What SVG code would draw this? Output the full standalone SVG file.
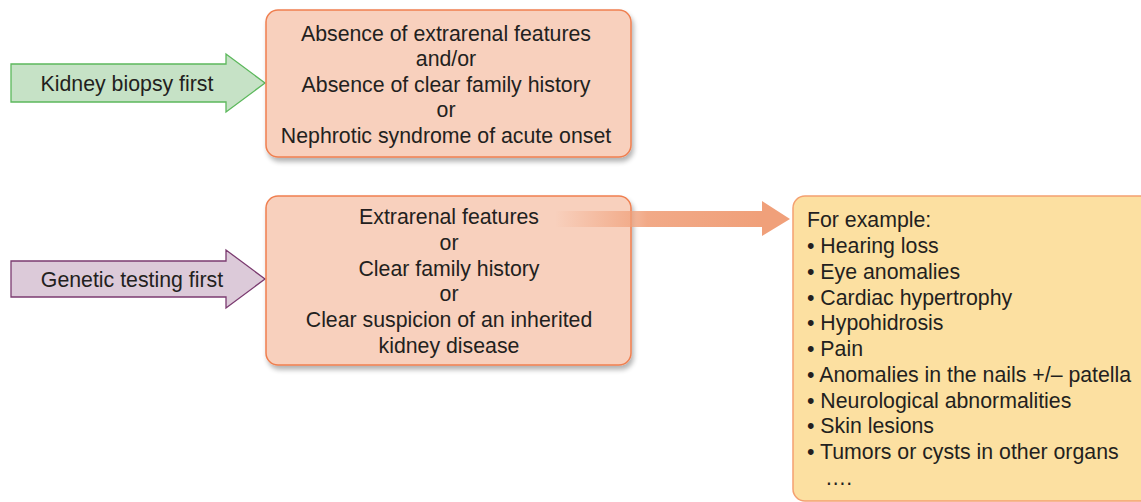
<svg xmlns="http://www.w3.org/2000/svg" width="1141" height="502" viewBox="0 0 1141 502">
<style>
text{font-family:"Liberation Sans",Arial,sans-serif;font-size:21.3px;fill:#231f20}
.c{text-anchor:middle}
.box{fill:#f8d0bd;stroke:#ef7f50;stroke-width:1.5}
</style>
<defs>
<linearGradient id="g" x1="555" y1="0" x2="760" y2="0" gradientUnits="userSpaceOnUse">
<stop offset="0" stop-color="#f0a07a" stop-opacity="0"/>
<stop offset="0.45" stop-color="#f0a07a" stop-opacity="0.9"/>
<stop offset="1" stop-color="#f0a07a"/>
</linearGradient>
<filter id="sh" x="-5%" y="-5%" width="115%" height="120%">
<feGaussianBlur in="SourceAlpha" stdDeviation="2.5"/>
<feOffset dx="2" dy="4"/>
<feComponentTransfer><feFuncA type="linear" slope="0.3"/></feComponentTransfer>
<feMerge><feMergeNode/><feMergeNode in="SourceGraphic"/></feMerge>
</filter>
</defs>
<g id="kidney-biopsy">
<polygon points="11,64 226,64 226,54 265,83 226,112 226,102 11,102" fill="#c6e2c6" stroke="#5cb85c" stroke-width="1.3"/>
<text class="c" x="127" y="91">Kidney biopsy first</text>
</g>
<g id="genetic-testing">
<polygon points="11,261 226,261 226,250 265,279 226,308 226,297 11,297" fill="#dccad9" stroke="#7b3b70" stroke-width="1.3"/>
<text class="c" x="132" y="287">Genetic testing first</text>
</g>
<g id="box-absence">
<rect class="box" x="266" y="10" width="365" height="147" rx="12" filter="url(#sh)"/>
<text class="c" x="446" y="41">Absence of extrarenal features</text>
<text class="c" x="446" y="66">and/or</text>
<text class="c" x="446" y="92">Absence of clear family history</text>
<text class="c" x="446" y="117">or</text>
<text class="c" x="446" y="143">Nephrotic syndrome of acute onset</text>
</g>
<g id="box-features">
<rect class="box" x="266" y="196" width="365" height="169" rx="12" filter="url(#sh)"/>
<text class="c" x="449" y="224">Extrarenal features</text>
<text class="c" x="449" y="250">or</text>
<text class="c" x="449" y="276">Clear family history</text>
<text class="c" x="449" y="301">or</text>
<text class="c" x="449" y="327">Clear suspicion of an inherited</text>
<text class="c" x="449" y="353">kidney disease</text>
</g>
<g id="connectors">
<polygon points="555,211 762,211 762,201 790,219 762,236 762,227 555,227" fill="url(#g)"/>
</g>
<g id="box-examples">
<rect x="793" y="196" width="370" height="305" rx="12" fill="#fce0a1" stroke="#f4a070" stroke-width="1.5"/>
<text x="807" y="227">For example:</text>
<text x="807" y="253">• Hearing loss</text>
<text x="807" y="279">• Eye anomalies</text>
<text x="807" y="305">• Cardiac hypertrophy</text>
<text x="807" y="330">• Hypohidrosis</text>
<text x="807" y="356">• Pain</text>
<text x="807" y="382">• Anomalies in the nails +/– patella</text>
<text x="807" y="408">• Neurological abnormalities</text>
<text x="807" y="433">• Skin lesions</text>
<text x="807" y="459">• Tumors or cysts in other organs</text>
<text x="825" y="485">….</text>
</g>
</svg>
